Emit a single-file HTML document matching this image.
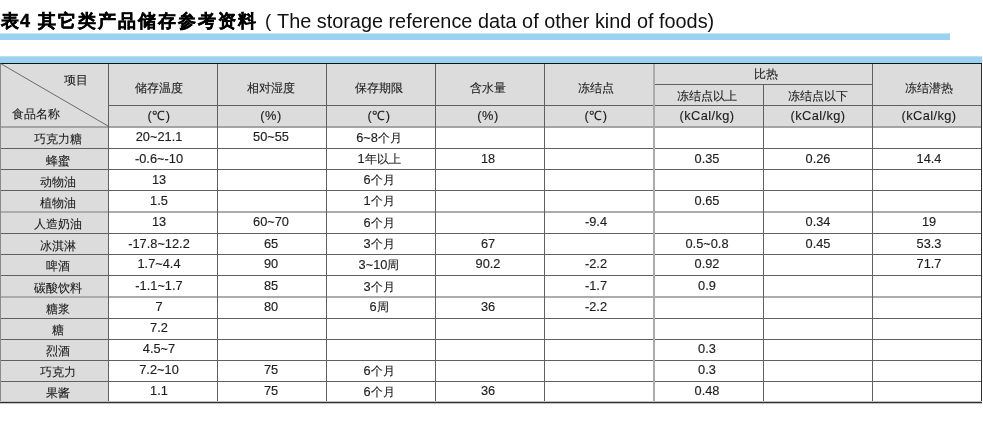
<!DOCTYPE html><html><head><meta charset="utf-8"><style>
html,body{margin:0;padding:0;background:#fff;width:983px;height:438px;overflow:hidden;position:relative;font-family:"Liberation Sans",sans-serif;}
.a{position:absolute;}
.g{will-change:transform;}
.h{position:absolute;height:1px;background:#606060;}
.v{position:absolute;width:1px;background:#606060;}
.t{position:absolute;white-space:nowrap;font-size:12.8px;line-height:16px;height:16px;color:#1e1e1e;transform:translateX(-50%);will-change:transform;-webkit-text-stroke:0.15px #1e1e1e;}
.c{font-size:12px;-webkit-text-stroke-width:0.12px;}
</style></head><body>
<div class="g" style="position:absolute;top:9px;font-size:17.5px;line-height:24px;font-weight:bold;color:#000;white-space:nowrap;-webkit-text-stroke:0.4px #000;left:1px">表</div>
<div class="g" style="position:absolute;top:9px;font-size:17.5px;line-height:24px;font-weight:bold;color:#000;white-space:nowrap;-webkit-text-stroke:0.4px #000;left:19.5px;font-size:18px">4</div>
<div class="g" style="position:absolute;top:9px;font-size:17.5px;line-height:24px;font-weight:bold;color:#000;white-space:nowrap;-webkit-text-stroke:0.4px #000;left:37.8px;letter-spacing:1.97px">其它类产品储存参考资料</div>
<div class="a g" style="left:265px;top:8.5px;font-size:18.5px;line-height:24px;color:#111;white-space:nowrap">(</div>
<div class="a g" style="left:277.2px;top:8.5px;font-size:19.86px;line-height:24px;color:#111;white-space:nowrap">The storage reference data of other kind of foods)</div>
<div class="a" style="left:0;top:33px;width:950px;height:1px;background:#c6e6f7"></div>
<div class="a" style="left:0;top:34px;width:950px;height:6px;background:#9ad3f2"></div>
<div class="a" style="left:0;top:56px;width:982px;height:1px;background:#bddff1"></div>
<div class="a" style="left:0;top:57px;width:982px;height:6px;background:#9ad3f2"></div>
<div class="a" style="left:0;top:63px;width:981px;height:63px;background:#dcdcdc"></div>
<div class="a" style="left:0;top:126px;width:108px;height:276px;background:#dcdcdc"></div>
<div class="h" style="left:654px;top:84px;width:218px"></div>
<div class="h" style="left:108px;top:105px;width:873px"></div>
<div class="h" style="left:0;top:126px;width:981px;height:2px;background:#a4a4a4"></div>
<div class="h" style="left:0;top:148px;width:981px"></div>
<div class="h" style="left:0;top:169px;width:981px"></div>
<div class="h" style="left:0;top:190px;width:981px"></div>
<div class="h" style="left:0;top:233px;width:981px"></div>
<div class="h" style="left:0;top:254px;width:981px"></div>
<div class="h" style="left:0;top:275px;width:981px"></div>
<div class="h" style="left:0;top:318px;width:981px"></div>
<div class="h" style="left:0;top:339px;width:981px"></div>
<div class="h" style="left:0;top:360px;width:981px"></div>
<div class="h" style="left:0;top:381px;width:981px"></div>
<div class="h" style="left:0;top:211px;width:981px;height:2px;background:#acacac"></div>
<div class="h" style="left:0;top:296px;width:981px;height:2px;background:#acacac"></div>
<div class="v" style="left:0;top:63px;height:339px;background:#8a8a8a;width:1px"></div>
<div class="v" style="left:108px;top:63px;height:339px"></div>
<div class="v" style="left:217px;top:63px;height:339px"></div>
<div class="v" style="left:326px;top:63px;height:339px"></div>
<div class="v" style="left:435px;top:63px;height:339px"></div>
<div class="v" style="left:544px;top:63px;height:339px"></div>
<div class="v" style="left:872px;top:63px;height:339px"></div>
<div class="v" style="left:653px;top:63px;height:339px;width:2px;background:#acacac"></div>
<div class="v" style="left:763px;top:84px;height:318px"></div>
<div class="v" style="left:981px;top:63px;height:340px;background:#303030"></div>
<div class="a" style="left:0;top:63px;width:982px;height:1px;background:#0e151b"></div>
<div class="a" style="left:0;top:402px;width:982px;height:1px;background:#303030"></div>
<div class="a" style="left:0;top:401px;width:982px;height:1px;background:#c0c0c0"></div>
<div class="a" style="left:0;top:403px;width:982px;height:1px;background:#c4c4c4"></div>
<svg class="a" style="left:0;top:63px" width="109" height="64"><line x1="0.5" y1="0.5" x2="108" y2="63" stroke="#5e5e5e" stroke-width="0.9"/></svg>
<div class="t" style="left:75.50px;top:71.50px;"><span class="c">项目</span></div>
<div class="t" style="left:35.80px;top:106.00px;"><span class="c">食品名称</span></div>
<div class="t" style="left:158.60px;top:79.60px;"><span class="c">储存温度</span></div>
<div class="t" style="left:270.80px;top:79.60px;"><span class="c">相对湿度</span></div>
<div class="t" style="left:379.00px;top:79.60px;"><span class="c">保存期限</span></div>
<div class="t" style="left:487.70px;top:79.60px;"><span class="c">含水量</span></div>
<div class="t" style="left:596.10px;top:79.60px;"><span class="c">冻结点</span></div>
<div class="t" style="left:766.00px;top:65.60px;"><span class="c">比热</span></div>
<div class="t" style="left:707.00px;top:87.80px;"><span class="c">冻结点以上</span></div>
<div class="t" style="left:818.00px;top:87.80px;"><span class="c">冻结点以下</span></div>
<div class="t" style="left:929.00px;top:79.60px;"><span class="c">冻结潜热</span></div>
<div class="t" style="left:158.85px;top:107.60px;letter-spacing:0.5px;">(℃)</div>
<div class="t" style="left:271.05px;top:107.60px;letter-spacing:0.5px;">(%)</div>
<div class="t" style="left:379.25px;top:107.60px;letter-spacing:0.5px;">(℃)</div>
<div class="t" style="left:487.95px;top:107.60px;letter-spacing:0.5px;">(%)</div>
<div class="t" style="left:596.35px;top:107.60px;letter-spacing:0.5px;">(℃)</div>
<div class="t" style="left:707.20px;top:107.60px;letter-spacing:0.4px;">(kCal/kg)</div>
<div class="t" style="left:818.20px;top:107.60px;letter-spacing:0.4px;">(kCal/kg)</div>
<div class="t" style="left:929.20px;top:107.60px;letter-spacing:0.4px;">(kCal/kg)</div>
<div class="t" style="left:58.00px;top:131.00px;"><span class="c">巧克力糖</span></div>
<div class="t" style="left:158.60px;top:129.20px;">20~21.1</div>
<div class="t" style="left:270.80px;top:129.20px;">50~55</div>
<div class="t" style="left:379.00px;top:129.50px;">6~8<span class="c">个月</span></div>
<div class="t" style="left:58.00px;top:152.90px;"><span class="c">蜂蜜</span></div>
<div class="t" style="left:158.60px;top:151.10px;">-0.6~-10</div>
<div class="t" style="left:379.00px;top:151.40px;">1<span class="c">年以上</span></div>
<div class="t" style="left:487.70px;top:151.10px;">18</div>
<div class="t" style="left:707.00px;top:151.10px;">0.35</div>
<div class="t" style="left:818.00px;top:151.10px;">0.26</div>
<div class="t" style="left:929.00px;top:151.10px;">14.4</div>
<div class="t" style="left:58.00px;top:173.60px;"><span class="c">动物油</span></div>
<div class="t" style="left:158.60px;top:171.80px;">13</div>
<div class="t" style="left:379.00px;top:172.10px;">6<span class="c">个月</span></div>
<div class="t" style="left:58.00px;top:194.90px;"><span class="c">植物油</span></div>
<div class="t" style="left:158.60px;top:193.10px;">1.5</div>
<div class="t" style="left:379.00px;top:193.40px;">1<span class="c">个月</span></div>
<div class="t" style="left:707.00px;top:193.10px;">0.65</div>
<div class="t" style="left:58.00px;top:216.10px;"><span class="c">人造奶油</span></div>
<div class="t" style="left:158.60px;top:214.30px;">13</div>
<div class="t" style="left:270.80px;top:214.30px;">60~70</div>
<div class="t" style="left:379.00px;top:214.60px;">6<span class="c">个月</span></div>
<div class="t" style="left:596.10px;top:214.30px;">-9.4</div>
<div class="t" style="left:818.00px;top:214.30px;">0.34</div>
<div class="t" style="left:929.00px;top:214.30px;">19</div>
<div class="t" style="left:58.00px;top:237.50px;"><span class="c">冰淇淋</span></div>
<div class="t" style="left:158.60px;top:235.70px;">-17.8~12.2</div>
<div class="t" style="left:270.80px;top:235.70px;">65</div>
<div class="t" style="left:379.00px;top:236.00px;">3<span class="c">个月</span></div>
<div class="t" style="left:487.70px;top:235.70px;">67</div>
<div class="t" style="left:707.00px;top:235.70px;">0.5~0.8</div>
<div class="t" style="left:818.00px;top:235.70px;">0.45</div>
<div class="t" style="left:929.00px;top:235.70px;">53.3</div>
<div class="t" style="left:58.00px;top:258.10px;"><span class="c">啤酒</span></div>
<div class="t" style="left:158.60px;top:256.30px;">1.7~4.4</div>
<div class="t" style="left:270.80px;top:256.30px;">90</div>
<div class="t" style="left:379.00px;top:256.60px;">3~10<span class="c">周</span></div>
<div class="t" style="left:487.70px;top:256.30px;">90.2</div>
<div class="t" style="left:596.10px;top:256.30px;">-2.2</div>
<div class="t" style="left:707.00px;top:256.30px;">0.92</div>
<div class="t" style="left:929.00px;top:256.30px;">71.7</div>
<div class="t" style="left:58.00px;top:280.00px;"><span class="c">碳酸饮料</span></div>
<div class="t" style="left:158.60px;top:278.20px;">-1.1~1.7</div>
<div class="t" style="left:270.80px;top:278.20px;">85</div>
<div class="t" style="left:379.00px;top:278.50px;">3<span class="c">个月</span></div>
<div class="t" style="left:596.10px;top:278.20px;">-1.7</div>
<div class="t" style="left:707.00px;top:278.20px;">0.9</div>
<div class="t" style="left:58.00px;top:300.70px;"><span class="c">糖浆</span></div>
<div class="t" style="left:158.60px;top:298.90px;">7</div>
<div class="t" style="left:270.80px;top:298.90px;">80</div>
<div class="t" style="left:379.00px;top:299.20px;">6<span class="c">周</span></div>
<div class="t" style="left:487.70px;top:298.90px;">36</div>
<div class="t" style="left:596.10px;top:298.90px;">-2.2</div>
<div class="t" style="left:58.00px;top:322.00px;"><span class="c">糖</span></div>
<div class="t" style="left:158.60px;top:320.20px;">7.2</div>
<div class="t" style="left:58.00px;top:343.20px;"><span class="c">烈酒</span></div>
<div class="t" style="left:158.60px;top:341.40px;">4.5~7</div>
<div class="t" style="left:707.00px;top:341.40px;">0.3</div>
<div class="t" style="left:58.00px;top:364.00px;"><span class="c">巧克力</span></div>
<div class="t" style="left:158.60px;top:362.20px;">7.2~10</div>
<div class="t" style="left:270.80px;top:362.20px;">75</div>
<div class="t" style="left:379.00px;top:362.50px;">6<span class="c">个月</span></div>
<div class="t" style="left:707.00px;top:362.20px;">0.3</div>
<div class="t" style="left:58.00px;top:385.20px;"><span class="c">果酱</span></div>
<div class="t" style="left:158.60px;top:383.40px;">1.1</div>
<div class="t" style="left:270.80px;top:383.40px;">75</div>
<div class="t" style="left:379.00px;top:383.70px;">6<span class="c">个月</span></div>
<div class="t" style="left:487.70px;top:383.40px;">36</div>
<div class="t" style="left:707.00px;top:383.40px;">0.48</div>
</body></html>
